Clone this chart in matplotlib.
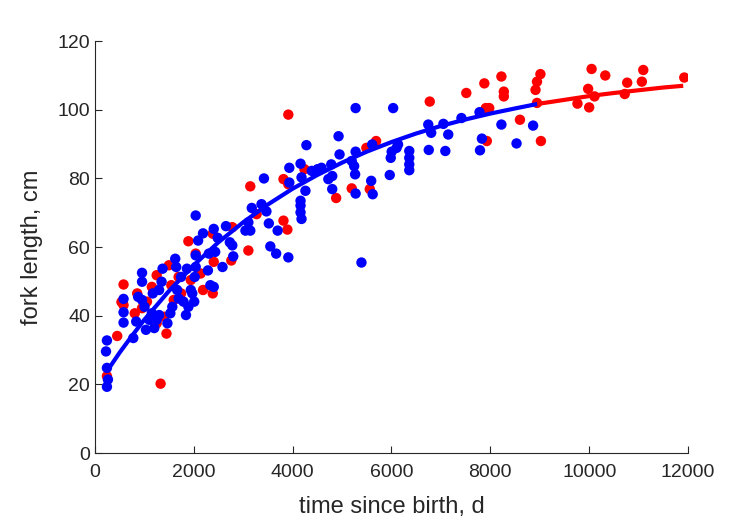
import matplotlib.pyplot as plt

plt.rcParams['font.family'] = ['Liberation Sans', 'DejaVu Sans']

# red group: time since birth (d), fork length (cm)
red_t = [454, 582, 582, 540, 246, 1331, 1450, 1893, 858, 808, 1252, 1154, 1499, 1548,
         1745, 1942, 2041, 2189, 2386, 2406, 2386, 2761, 2781, 3106, 3145, 3273, 3816,
         3895, 3816, 3914, 3914, 4240, 4881, 5196, 5561, 5492, 5689, 6774, 7513, 7878,
         7908, 7977, 7928, 8223, 8272, 8272, 8598, 8913, 8943, 9012, 8943, 9022, 9761,
         9977, 9998, 10047, 10106, 10323, 10717, 10767, 11063, 11092, 11921,
         956, 1055, 1400, 1597, 1696, 1252, 2140]
red_L = [34.1, 49.1, 43.1, 44.0, 22.4, 20.2, 34.8, 61.7, 46.5, 40.7, 51.8, 48.4, 54.7, 48.9,
         46.5, 50.4, 58.1, 47.5, 46.5, 55.7, 63.9, 56.1, 65.8, 59.0, 77.7, 69.6, 67.7,
         65.1, 79.8, 98.6, 78.3, 82.7, 74.3, 77.1, 76.9, 88.9, 90.9, 102.4, 104.9, 107.7,
         100.5, 100.5, 90.9, 109.7, 105.3, 103.9, 97.1, 105.8, 108.2, 110.4, 102.0, 90.9, 101.8,
         106.1, 100.7, 111.9, 103.9, 110.0, 104.6, 107.9, 108.2, 111.6, 109.4,
         42.2, 44.1, 39.7, 44.6, 51.3, 37.8, 52.3]

# blue group
blue_t = [246, 266, 246, 227, 246, 582, 582, 582, 779, 838, 877, 956, 956, 956, 1006,
          1035, 1104, 1154, 1203, 1252, 1173, 1301, 1351, 1371, 1301, 1469, 1528, 1568,
          1627, 1647, 1666, 1696, 1745, 1794, 1844, 1864, 1893, 1942, 1972, 2011, 2021,
          2041, 2041, 2090, 2041, 2189, 2288, 2307, 2337, 2406, 2406, 2435, 2485, 2583,
          2653, 2731, 2781, 2800, 3047, 3106, 3145, 3175, 3372, 3421, 3471, 3520, 3550,
          3668, 3698, 3914, 3934, 3934, 4161, 4161, 4161, 4181, 4161, 4181, 4260, 4280,
          4388, 4506, 4585, 4723, 4782, 4802, 4802, 4930, 4950, 5196, 5245, 5265, 5275,
          5275, 5275, 5393, 5590, 5610, 5620, 5965, 5985, 6004, 6034, 6103, 6133, 6360,
          6360, 6360, 6360, 6744, 6754, 6803, 7050, 7089, 7148, 7415, 7780, 7790, 7829,
          8223, 8529, 8864]
blue_L = [19.3, 21.4, 24.8, 29.6, 32.8, 44.9, 41.0, 38.0, 33.5, 38.3, 45.5, 52.5, 49.9, 44.6, 42.6,
          35.9, 38.8, 40.7, 36.4, 38.8, 46.5, 47.5, 49.9, 53.7, 40.2, 37.8, 40.7, 42.6,
          56.6, 54.2, 47.5, 45.0, 51.3, 44.1, 40.2, 53.7, 42.6, 47.5, 46.5, 44.1, 51.3,
          57.6, 69.2, 61.9, 54.2, 64.0, 53.2, 58.1, 48.9, 48.4, 65.3, 58.6, 62.7, 54.2,
          66.1, 61.4, 60.5, 57.3, 64.8, 67.2, 64.8, 71.4, 72.5, 80.0, 70.4, 66.9, 60.2,
          58.1, 64.8, 57.0, 83.1, 78.8, 73.5, 72.1, 70.1, 68.2, 84.3, 80.3, 76.4, 89.7,
          82.2, 82.7, 83.1, 79.8, 84.1, 80.7, 76.9, 92.3, 87.0, 85.1, 83.6, 81.2, 87.8,
          75.6, 100.5, 55.5, 79.3, 89.9, 75.4, 81.0, 86.0, 87.8, 100.5, 88.9, 89.9, 88.0,
          86.0, 84.1, 82.4, 95.7, 88.3, 93.3, 95.9, 88.0, 92.8, 97.6, 99.3, 88.2, 91.6,
          95.7, 90.2, 95.4]

# growth curve
curve_blue_t = [250, 500, 750, 1000, 1500, 2000, 2500, 3000, 3500, 4000, 4500, 5000,
                5500, 6000, 6500, 7000, 7500, 8000, 8500, 8950]
curve_blue_L = [23.9, 29.2, 34.1, 38.8, 47.2, 54.7, 61.4, 67.2, 72.4, 77.0, 81.0, 84.6,
                87.8, 90.6, 93.1, 95.3, 97.2, 98.9, 100.4, 101.7]
curve_red_t = [8950, 9500, 10000, 10500, 11000, 11500, 11900]
curve_red_L = [101.7, 102.9, 104.0, 104.9, 105.7, 106.5, 107.0]

fig = plt.figure(figsize=(7.29, 5.21), dpi=100)
ax = fig.add_axes([0.130, 0.1305, 0.814, 0.7905])

ax.scatter(red_t, red_L, s=56, color='#ff0000', edgecolors='none', zorder=2)
ax.scatter(blue_t, blue_L, s=56, color='#0000ff', edgecolors='none', zorder=3)
ax.plot(curve_blue_t, curve_blue_L, color='#0000ff', lw=3.0, zorder=4, solid_capstyle='butt')
ax.plot(curve_red_t, curve_red_L, color='#ff0000', lw=3.0, zorder=4, solid_capstyle='butt')

ax.set_xlim(0, 12000)
ax.set_ylim(0, 120)
ax.set_xticks(range(0, 12001, 2000))
ax.set_yticks(range(0, 121, 20))

dark = '#262626'
for side in ['top', 'right']:
    ax.spines[side].set_visible(False)
for side in ['left', 'bottom']:
    ax.spines[side].set_color(dark)
    ax.spines[side].set_linewidth(0.8)
ax.tick_params(direction='in', length=5, width=0.8, colors=dark, labelsize=14)
ax.tick_params(axis='x', pad=8)

ax.set_xlabel('time since birth, d', fontsize=17, color=dark, labelpad=11)
ax.set_ylabel('fork length, cm', fontsize=17, color=dark, labelpad=10)

fig.savefig('out.png', dpi=100)
